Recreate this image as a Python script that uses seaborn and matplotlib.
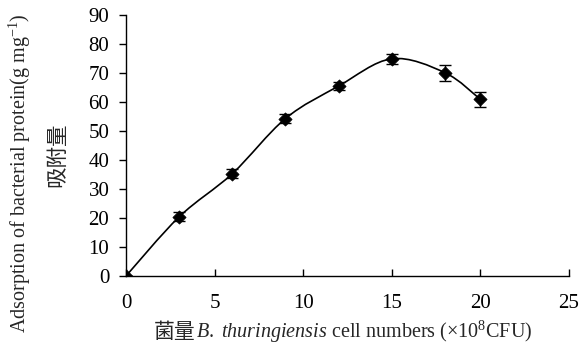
import numpy as np
import pandas as pd
import matplotlib
matplotlib.use("Agg")
import matplotlib.pyplot as plt
import seaborn as sns
from matplotlib.path import Path
from matplotlib.patches import PathPatch
from matplotlib.offsetbox import TextArea, HPacker, AnchoredOffsetbox

cell_numbers = [0, 3, 6, 9, 12, 15, 18, 20]
adsorption = [0, 20.4, 35.3, 54.3, 65.5, 74.9, 70.1, 60.9]
error = [0, 1.5, 1.6, 1.5, 1.5, 1.7, 2.7, 2.6]
x_ticks = [0, 5, 10, 15, 20, 25]
y_ticks = [0, 10, 20, 30, 40, 50, 60, 70, 80, 90]

sns.set_style("ticks")
plt.rcParams["font.family"] = ["Liberation Serif", "Noto Sans CJK SC"]
plt.rcParams["mathtext.fontset"] = "custom"
plt.rcParams["mathtext.rm"] = "Liberation Serif"
plt.rcParams["mathtext.it"] = "Liberation Serif:italic"

df = pd.DataFrame({"x": cell_numbers, "y": adsorption, "err": error})

fig = plt.figure(figsize=(5.79, 3.5), dpi=100)
ax = fig.add_axes([126 / 579, 1 - 276 / 350, (569 - 126) / 579, (276 - 15) / 350])

# smooth curve (Catmull-Rom style Bezier through the data points)
pts = np.column_stack([df["x"].to_numpy(float), df["y"].to_numpy(float)])
n = len(pts)
verts = [pts[0]]
codes = [Path.MOVETO]
for i in range(n - 1):
    p0 = pts[max(i - 1, 0)]
    p1 = pts[i]
    p2 = pts[i + 1]
    p3 = pts[min(i + 2, n - 1)]
    c1 = p1 + (p2 - p0) / 6.0
    c2 = p2 - (p3 - p1) / 6.0
    verts += [c1, c2, p2]
    codes += [Path.CURVE4] * 3
ax.add_patch(PathPatch(Path(verts, codes), facecolor="none", edgecolor="black", lw=1.2, zorder=2))

ax.errorbar(df["x"], df["y"], yerr=df["err"], fmt="none", ecolor="black",
            elinewidth=1.0, capsize=4, capthick=1.0, zorder=3)
sns.scatterplot(data=df, x="x", y="y", marker="D", s=45, color="black",
                edgecolor="black", ax=ax, zorder=4, legend=False)

ax.set_xlim(0, 25)
ax.set_ylim(0, 90)
ax.set_xticks(x_ticks)
ax.set_yticks(y_ticks)
ax.set_xticklabels([str(v) for v in x_ticks], fontsize=15)
ax.set_yticklabels([str(v) for v in y_ticks], fontsize=15)
ax.tick_params(axis="x", direction="in", length=5, width=1, pad=13, colors="black")
ax.tick_params(axis="y", direction="out", length=5, width=1, pad=7, colors="black")
sns.despine(ax=ax)
for s in ["left", "bottom"]:
    ax.spines[s].set_linewidth(1.0)
    ax.spines[s].set_color("black")
ax.set_xlabel("")
ax.set_ylabel("")

# y labels
fig.text(20 / 579, 1 - 173 / 350, r"Adsorption of bacterial protein(g mg$^{\mathrm{-1}}$)",
         rotation=90, ha="center", va="center", fontsize=14.5, family="Liberation Serif")
fig.text(57 / 579, 1 - 155 / 350, "吸附量", rotation=90, ha="center", va="center",
         fontsize=15.5, family="Noto Sans CJK SC")

# x label composed of pieces
t1 = TextArea("菌量", textprops=dict(family="Noto Sans CJK SC", fontsize=15))
t2 = TextArea(r"$\mathit{B.\ thuringiensis}$ cell numbers (×10$^{8}$CFU)",
              textprops=dict(family="Liberation Serif", fontsize=14.5))
box = HPacker(children=[t1, t2], align="baseline", pad=0, sep=0)
anch = AnchoredOffsetbox(loc="center", child=box, frameon=False,
                         bbox_to_anchor=(343 / 579, 1 - 332 / 350),
                         bbox_transform=fig.transFigure, pad=0, borderpad=0)
fig.add_artist(anch)

fig.savefig("out.png", dpi=100, facecolor="white")
